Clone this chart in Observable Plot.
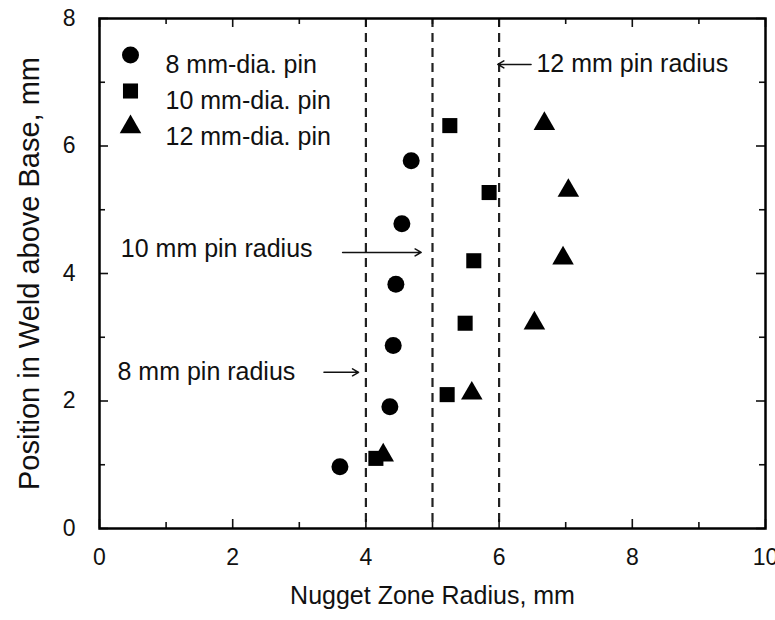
<!DOCTYPE html>
<html><head><meta charset="utf-8">
<script src="https://cdn.jsdelivr.net/npm/d3@7"></script>
<script src="https://cdn.jsdelivr.net/npm/@observablehq/plot@0.6"></script>
<style>body{margin:0;background:#fff} svg{display:block}</style>
</head><body><div id="chart"></div>
<script>
// Data
const pin8X  = [3.61, 4.36, 4.41, 4.45, 4.54, 4.68];
const pin8Y  = [0.97, 1.91, 2.87, 3.83, 4.78, 5.77];
const pin10X = [4.15, 5.22, 5.49, 5.62, 5.85, 5.26];
const pin10Y = [1.10, 2.10, 3.22, 4.20, 5.27, 6.32];
const pin12X = [4.26, 5.59, 6.53, 6.96, 7.04, 6.68];
const pin12Y = [1.15, 2.12, 3.22, 4.24, 5.30, 6.35];
const seriesNames = ["8 mm-dia. pin", "10 mm-dia. pin", "12 mm-dia. pin"];
const pinRadii = [4, 5, 6];
const annotLabels = ["8 mm pin radius", "10 mm pin radius", "12 mm pin radius"];
const annotTextX = [0.27, 0.32, 6.56];
const annotTextY = [2.45, 4.38, 7.28];
const arrowX1 = [3.37, 3.65, 6.48];
const arrowX2 = [3.89, 4.83, 5.98];
const arrowY  = [2.45, 4.33, 7.28];
const xMajor = [0, 2, 4, 6, 8, 10];
const xMinor = [1, 3, 5, 7, 9];
const yMajor = [0, 2, 4, 6, 8];
const yMinor = [1, 3, 5, 7];
const xTitle = "Nugget Zone Radius, mm";
const yTitle = "Position in Weld above Base, mm";

const W = 775, H = 620, mL = 99, mR = 10, mT = 18, mB = 92;
const innerW = W - mL - mR, innerH = H - mT - mB;
const font = "'Liberation Sans', Arial, Helvetica, sans-serif";

const pts = (xs, ys) => xs.map((x, i) => ({x, y: ys[i]}));
const s8 = pts(pin8X, pin8Y), s10 = pts(pin10X, pin10Y), s12 = pts(pin12X, pin12Y);
const annots = annotLabels.map((label, i) => ({label, tx: annotTextX[i], ty: annotTextY[i], x1: arrowX1[i], x2: arrowX2[i], y: arrowY[i]}));
const symbols = ["circle", "square", "triangle"];
const radii = [8.5, 8.5, 8];

const tickMarks = [];
for (const [arr, len] of [[xMajor, 9], [xMinor, 6]]) {
  tickMarks.push(Plot.tickX(arr, {x: d => d, insetTop: innerH - len, strokeWidth: 1.6}));
  tickMarks.push(Plot.tickX(arr, {x: d => d, insetBottom: innerH - len, strokeWidth: 1.6}));
}
for (const [arr, len] of [[yMajor, 9], [yMinor, 6]]) {
  tickMarks.push(Plot.tickY(arr, {y: d => d, insetRight: innerW - len, strokeWidth: 1.6}));
  tickMarks.push(Plot.tickY(arr, {y: d => d, insetLeft: innerW - len, strokeWidth: 1.6}));
}

const legendMarks = seriesNames.flatMap((name, i) => [
  Plot.dot([name], {frameAnchor: "top-left", dx: 31, dy: 36.5 + i * 36, symbol: symbols[i], r: radii[i], fill: "black", stroke: "none"}),
  Plot.text([name], {frameAnchor: "top-left", dx: 66, dy: 36.5 + i * 36, text: d => d, textAnchor: "start", fontSize: 25, fill: "#111"})
]);

const chart = Plot.plot({
  width: W, height: H,
  marginLeft: mL, marginRight: mR, marginTop: mT, marginBottom: mB,
  style: {fontFamily: font, background: "white", color: "#111", overflow: "visible"},
  x: {domain: [0, 10], label: null},
  y: {domain: [0, 8], label: null},
  marks: [
    Plot.ruleX(pinRadii, {x: d => d, stroke: "#222", strokeWidth: 2.2, strokeDasharray: "9,6"}),
    ...tickMarks,
    Plot.axisX(xMajor, {tickSize: 0, tickPadding: 20, fontSize: 23, label: null, tickFormat: d => String(d)}),
    Plot.axisY(yMajor, {tickSize: 0, tickPadding: 24, fontSize: 23, label: null, tickFormat: d => String(d)}),
    Plot.frame({stroke: "black", strokeWidth: 2.5}),
    Plot.dot(s8, {x: "x", y: "y", symbol: "circle", r: 8.5, fill: "black", stroke: "none"}),
    Plot.dot(s10, {x: "x", y: "y", symbol: "square", r: 8.5, fill: "black", stroke: "none"}),
    Plot.dot(s12, {x: "x", y: "y", symbol: "triangle", r: 8, fill: "black", stroke: "none"}),
    Plot.arrow(annots, {x1: "x1", x2: "x2", y1: "y", y2: "y", stroke: "#111", strokeWidth: 1.5, headLength: 7}),
    Plot.text(annots, {x: "tx", y: "ty", text: "label", textAnchor: "start", fontSize: 25, fill: "#111"}),
    ...legendMarks,
    Plot.text([xTitle], {frameAnchor: "bottom", dy: 75, text: d => d, fontSize: 25, fill: "#111"}),
    Plot.text([yTitle], {frameAnchor: "left", dx: -70, dy: 0, rotate: -90, textAnchor: "middle", text: d => d, fontSize: 29, fill: "#111"})
  ]
});
document.getElementById("chart").appendChild(chart);
</script>
</body></html>
